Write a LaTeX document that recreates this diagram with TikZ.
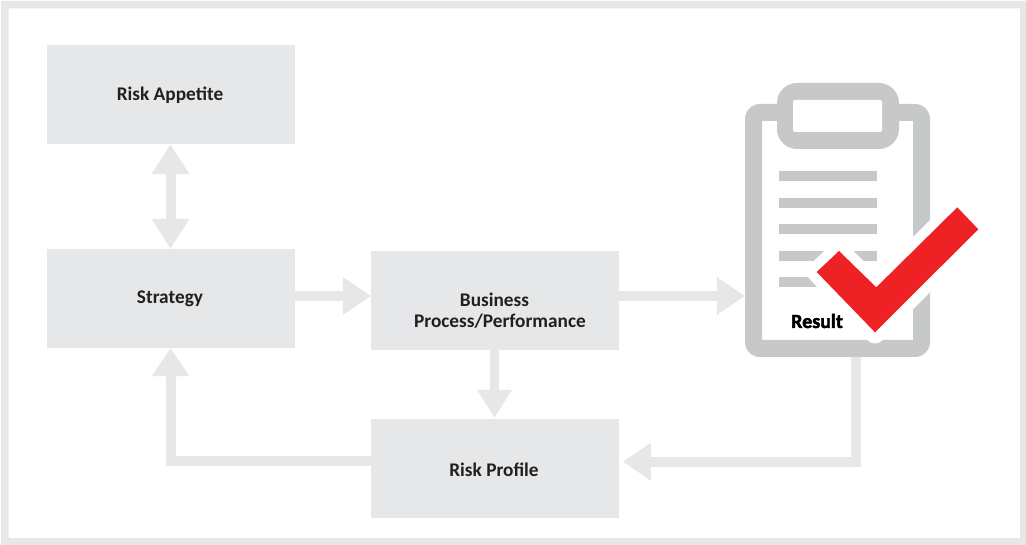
\documentclass[tikz,border=0pt]{standalone}
\usepackage{fontspec}
\setmainfont{Carlito}
\newfontfamily\heavyfont[FakeBold=2.2]{Carlito Bold}
\usetikzlibrary{arrows.meta}
\definecolor{boxgrey}{HTML}{E6E7E8}
\definecolor{clipgrey}{HTML}{C7C8CA}
\definecolor{checkred}{HTML}{EE2224}
\definecolor{labelink}{HTML}{231F20}
\tikzset{
  riskbox/.style={fill=boxgrey,draw=none,minimum width=248pt,minimum height=99pt,inner sep=0pt},
  boxtext/.style={inner sep=0pt,font=\bfseries\fontsize{19.3}{21}\selectfont,text=labelink,align=center},
  fatarrow/.style={draw=boxgrey,line width=10pt,line join=miter,
    -{Triangle[length=28pt,width=36pt,color=boxgrey]}},
  fatdown/.style={draw=boxgrey,line width=9.5pt,
    -{Triangle[length=28pt,width=33pt,color=boxgrey]}},
  fatboth/.style={draw=boxgrey,line width=10pt,
    {Triangle[length=30pt,width=36pt,color=boxgrey]}-{Triangle[length=30pt,width=36pt,color=boxgrey]}},
  clipbar/.style={fill=clipgrey,draw=none},
}
\begin{document}
\begin{tikzpicture}[x=1pt,y=-1pt]
\useasboundingbox (0,0) rectangle (1026,545);
\fill[white] (0,0) rectangle (1026,545);
\fill[boxgrey,even odd rule] (1,1) rectangle (1026,545) (8.5,8.5) rectangle (1020,538);
% boxes
\node[riskbox] (appetite) at (171,94.5) {};
\node[riskbox] (strategy) at (171,298.5) {};
\node[riskbox] (business) at (495,300.5) {};
\node[riskbox] (profile) at (495,468.5) {};
\node[boxtext] (appetitetext) at ([xshift=-1pt,yshift=-0.5pt]appetite.center) {Risk Appetite};
\node[boxtext] (strategytext) at ([xshift=-1pt,yshift=0pt]strategy.center) {Strategy};
\node[boxtext] (businesstext) at ([xshift=5pt,yshift=-10pt]business.center) {\hspace*{-11pt}Business\\[0pt]Process/Performance};
\node[boxtext] (profiletext) at ([xshift=-1pt,yshift=-1.5pt]profile.center) {Risk Profile};
% clipboard
\fill[clipgrey,rounded corners=15pt,even odd rule]
  (745,104) rectangle (930,357) {[sharp corners] (762,121) rectangle (913,340)};
\fill[clipgrey,rounded corners=20pt] (777,83) rectangle (899,149);
\fill[white,rounded corners=2pt] (793,100) rectangle (882,132);
\fill[clipbar] (779,171) rectangle (877,181);
\fill[clipbar] (779,198) rectangle (877,208);
\fill[clipbar] (779,224) rectangle (877,234);
\fill[clipbar] (779,251) rectangle (877,261);
\fill[clipbar] (779,277) rectangle (877,287);
\coordinate (clipleft) at (745,296);
\coordinate (clipbottom) at (856,357);
% check
\fill[white,draw=white,line width=20pt,line join=round]
  (957.3,207.3) -- (978.3,229.3) -- (875,333.5) -- (816.7,272) -- (839,251) -- (876.3,287.3) -- cycle;
\fill[checkred] (957.3,207.3) -- (978.3,229.3) -- (875,332.3) -- (816.7,272) -- (839,251) -- (876.3,287.3) -- cycle;
\node[inner sep=0pt,text=black,font=\heavyfont\fontsize{20}{22}\selectfont] (result) at (817,321) {Result};
% connectors
\draw[fatboth] ([xshift=-0.5pt]appetite.south) -- ([xshift=-0.5pt]strategy.north);
\draw[fatarrow] ([yshift=2.5pt]strategy.east) -- ([yshift=2.5pt]strategy.east -| business.west);
\draw[fatarrow] ([yshift=4.5pt]business.east) -- (clipleft);
\draw[fatdown] ([xshift=-0.5pt]business.south) -- ([xshift=-0.5pt,yshift=1pt]profile.north);
\draw[fatarrow] (profile.west |- 0,460.5) -- (170.5,460.5) -- (strategy.south -| 170.5,0);
\draw[fatarrow] (clipbottom) -- (856,461.7) -- ([yshift=6.8pt,xshift=3.7pt]profile.east);
\end{tikzpicture}
\end{document}
